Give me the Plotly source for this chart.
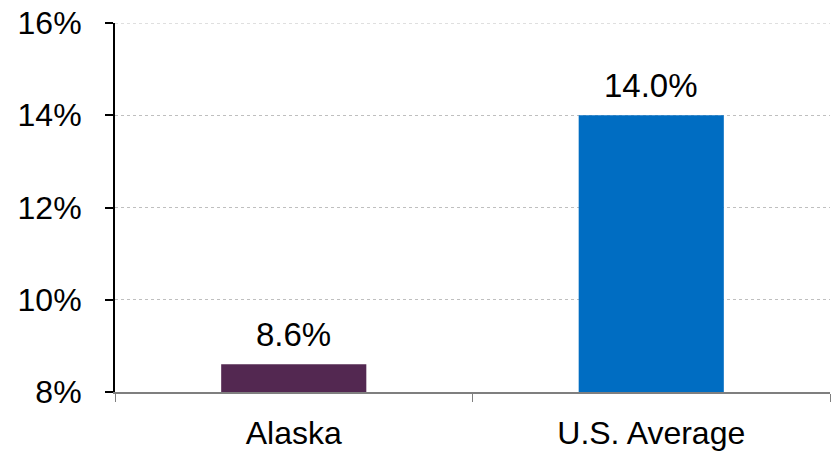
import plotly.graph_objects as go

categories = ["Alaska", "U.S. Average"]
values = [8.6, 14.0]
colors = ["#532851", "#006DC2"]
y_ticks = [8, 10, 12, 14, 16]
y_base = 8

fig = go.Figure()
fig.add_trace(go.Bar(
    x=categories, y=[v - y_base for v in values], base=y_base,
    marker_color=colors, width=0.406, marker_line_width=0, showlegend=False,
))

for c, v in zip(categories, values):
    fig.add_annotation(x=c, y=v, text=f"{v:.1f}%", showarrow=False,
                       yanchor="bottom", yshift=9,
                       font=dict(family="Liberation Sans, Arial", size=33, color="#000000"))

# top gridline (at the highest tick) drawn explicitly
fig.add_shape(type="line", xref="paper", x0=0, x1=1, yref="y", y0=max(y_ticks), y1=max(y_ticks),
              line=dict(color="#BFBFBF", width=1, dash="dot"), layer="below")

fig.update_layout(
    width=831, height=452,
    margin=dict(l=115, r=1, t=23, b=60),
    plot_bgcolor="white", paper_bgcolor="white",
    font=dict(family="Liberation Sans, Arial", size=32, color="#000000"),
)
fig.update_yaxes(
    range=[8, 16], tickvals=y_ticks, ticktext=[f"{t}%" for t in y_ticks],
    showgrid=True, gridcolor="#BFBFBF", griddash="dot", gridwidth=1,
    showline=True, linecolor="#000000", linewidth=2,
    ticks="outside", ticklen=8, tickwidth=2, tickcolor="#000000",
    ticklabelstandoff=17, zeroline=False, automargin=False,
    ticklabeloverflow="allow", tickfont=dict(size=32),
)
fig.update_xaxes(
    showline=True, linecolor="#7F7F7F", linewidth=2,
    ticks="outside", tickson="boundaries", ticklen=8, tickwidth=1, tickcolor="#7F7F7F",
    ticklabelstandoff=12, automargin=False, ticklabeloverflow="allow",
    tickfont=dict(size=32),
)
fig.write_html("out.html", config={"displayModeBar": False},
               post_script="document.body.style.margin='0';document.body.style.overflow='hidden';")
